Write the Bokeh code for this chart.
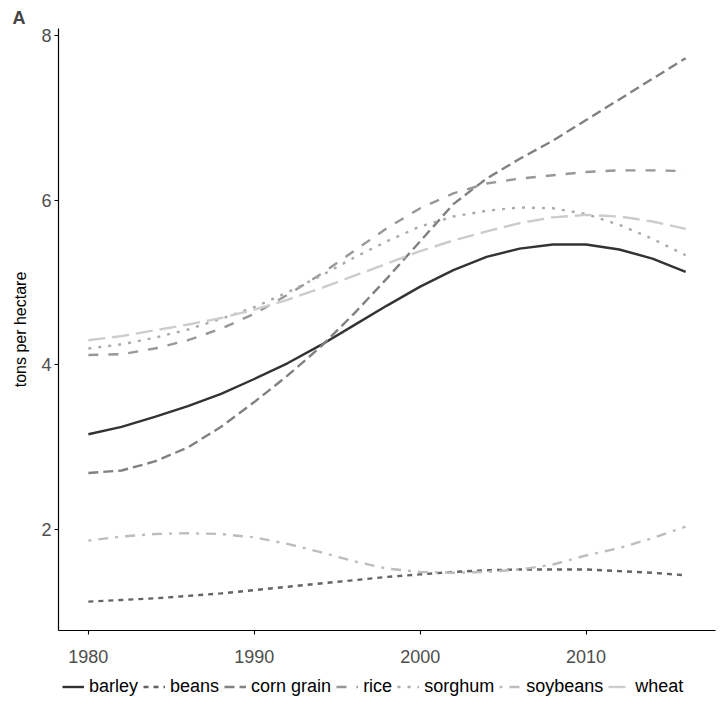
from bokeh.plotting import figure
from bokeh.layouts import column
from bokeh.models import Legend, LegendItem, Range1d, FixedTicker
from bokeh.embed import file_html
from bokeh.resources import INLINE

years = [1980, 1982, 1984, 1986, 1988, 1990, 1992, 1994, 1996, 1998,
         2000, 2002, 2004, 2006, 2008, 2010, 2012, 2014, 2016]

barley = [3.16, 3.25, 3.37, 3.50, 3.65, 3.83, 4.02, 4.24, 4.48, 4.72,
          4.95, 5.15, 5.31, 5.41, 5.46, 5.46, 5.40, 5.29, 5.13]
beans = [1.13, 1.15, 1.17, 1.20, 1.23, 1.27, 1.31, 1.35, 1.39, 1.43,
         1.46, 1.49, 1.51, 1.52, 1.52, 1.52, 1.50, 1.48, 1.45]
corn_grain = [2.69, 2.72, 2.83, 3.00, 3.25, 3.55, 3.87, 4.22, 4.62, 5.05,
              5.50, 5.95, 6.26, 6.50, 6.72, 6.97, 7.22, 7.47, 7.72]
rice = [4.12, 4.13, 4.20, 4.30, 4.44, 4.62, 4.85, 5.10, 5.38, 5.66,
        5.90, 6.08, 6.20, 6.26, 6.30, 6.34, 6.36, 6.36, 6.35]
sorghum = [4.20, 4.25, 4.33, 4.43, 4.56, 4.70, 4.88, 5.08, 5.30, 5.50,
           5.68, 5.80, 5.87, 5.91, 5.90, 5.83, 5.70, 5.53, 5.33]
soybeans = [1.87, 1.92, 1.95, 1.96, 1.95, 1.91, 1.83, 1.73, 1.62, 1.53,
            1.49, 1.48, 1.49, 1.52, 1.58, 1.69, 1.78, 1.90, 2.04]
wheat = [4.30, 4.35, 4.42, 4.49, 4.57, 4.67, 4.79, 4.93, 5.08, 5.23,
         5.38, 5.51, 5.62, 5.72, 5.79, 5.82, 5.80, 5.74, 5.65]

crops = ["barley", "beans", "corn grain", "rice", "sorghum", "soybeans", "wheat"]
series = [barley, beans, corn_grain, rice, sorghum, soybeans, wheat]
colors = ["#333333", "#646464", "#818181", "#989898", "#ABABAB", "#BDBDBD", "#CCCCCC"]
dashes = ["solid", "5 5", "10 5", "10 10", "3 7", "3 7 10 7", "17 7"]

x_ticks = [1980, 1990, 2000, 2010]
y_ticks = [2, 4, 6, 8]

p = figure(width=722, height=672, output_backend="svg", toolbar_location=None,
           x_range=Range1d(1978.2, 2017.8), y_range=Range1d(0.78, 8.08))
p.min_border_left = 58
p.min_border_right = 7
p.min_border_top = 28
p.min_border_bottom = 42
p.outline_line_color = None
p.xgrid.visible = False
p.ygrid.visible = False
p.background_fill_color = "white"
p.border_fill_color = "white"

p.title.text = "A"
p.title.text_font = "Liberation Sans"
p.title.text_font_size = "18px"
p.title.text_font_style = "bold"
p.title.offset = -46
p.title.standoff = 2

for ax in (p.xaxis[0], p.yaxis[0]):
    ax.axis_line_color = "black"
    ax.axis_line_width = 1.2
    ax.major_tick_line_color = "black"
    ax.major_tick_line_width = 1.1
    ax.major_tick_out = 4
    ax.major_tick_in = 0
    ax.minor_tick_line_color = None
    ax.major_label_text_color = "#4D4D4D"
    ax.major_label_text_font = "Liberation Sans"
    ax.major_label_text_font_size = "18px"

p.xaxis.ticker = FixedTicker(ticks=x_ticks)
p.yaxis.ticker = FixedTicker(ticks=y_ticks)
p.xaxis.major_label_standoff = 15
p.yaxis.major_label_standoff = 3
p.yaxis.axis_label = "tons per hectare"
p.yaxis.axis_label_text_font = "Liberation Sans"
p.yaxis.axis_label_text_font_size = "16px"
p.yaxis.axis_label_text_font_style = "normal"
p.yaxis.axis_label_text_color = "black"
p.yaxis.axis_label_standoff = 9

for vals, col, dash in zip(series, colors, dashes):
    p.line(years, vals, line_color=col, line_width=2.4, line_dash=dash)

# legend strip below the chart (its lines fall outside its own ranges, only the keys show)
leg = figure(width=722, height=37, output_backend="svg", toolbar_location=None,
             x_axis_location=None, y_axis_location=None,
             x_range=Range1d(0, 1), y_range=Range1d(0, 1))
leg.min_border = 0
leg.outline_line_color = None
leg.xgrid.visible = False
leg.ygrid.visible = False

items = []
for name, vals, col, dash in zip(crops, series, colors, dashes):
    r = leg.line(years, vals, line_color=col, line_width=2.4, line_dash=dash)
    items.append(LegendItem(label=name, renderers=[r]))

legend = Legend(items=items, orientation="horizontal", location=(4, 12),
                label_text_font="Liberation Sans", label_text_font_size="18px",
                label_text_color="black", glyph_width=22, glyph_height=17,
                label_standoff=5, spacing=5, padding=0, margin=0,
                border_line_color=None, background_fill_alpha=0)
leg.add_layout(legend, "center")

open("out.html", "w").write(file_html(column(p, leg, spacing=0), INLINE))
